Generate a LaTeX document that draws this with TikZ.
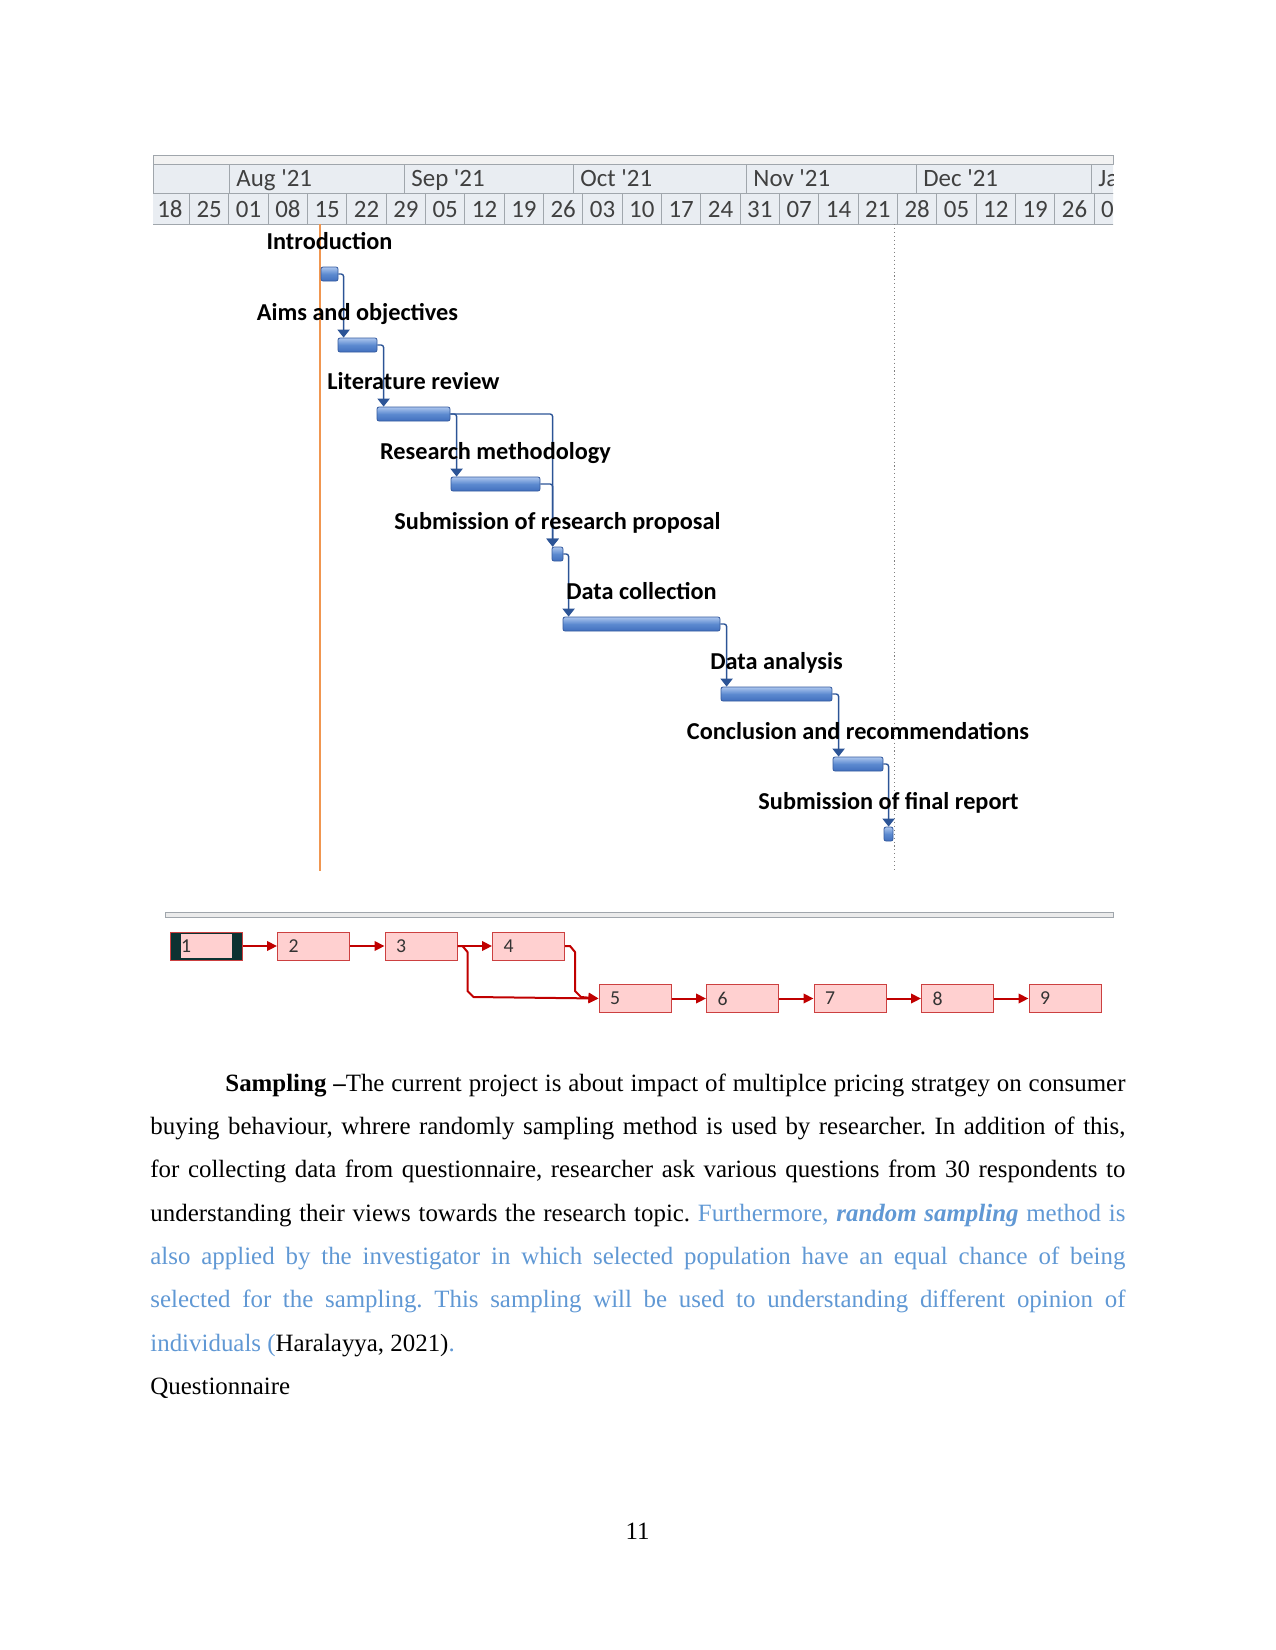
\documentclass[tikz,border=0pt]{standalone}
\usepackage{fontspec}
\setmainfont{Liberation Serif}
\newfontfamily\calibri{Carlito}[Ligatures=TeXOff]
\usetikzlibrary{arrows.meta, positioning}

\newdimen\unitpx \unitpx=0.48bp
\definecolor{hdrfill}{RGB}{233,237,242}
\definecolor{hdrline}{RGB}{160,166,172}
\definecolor{hdrtext}{RGB}{64,64,64}
\definecolor{barline}{RGB}{52,90,158}
\definecolor{bartop}{RGB}{172,198,238}
\definecolor{barmid}{RGB}{92,138,208}
\definecolor{barbot}{RGB}{66,112,190}
\definecolor{linkblue}{RGB}{44,84,150}
\definecolor{todayline}{RGB}{240,150,80}
\definecolor{netred}{RGB}{192,0,0}
\definecolor{netline}{RGB}{204,64,64}
\definecolor{netfill}{RGB}{255,208,208}
\definecolor{netdark}{RGB}{12,50,50}
\definecolor{citeblue}{RGB}{96,152,212}

\begin{document}
\begin{tikzpicture}[x=0.48bp, y=-0.48bp, node distance=34.5\unitpx,
    hdrcell/.style={draw=hdrline, fill=hdrfill, line width=1\unitpx},
    hdrlabel/.style={font=\calibri\fontsize{12}{14}\selectfont, text=hdrtext, inner sep=0},
    bar/.style={draw=barline, line width=0.8\unitpx, rounded corners=2\unitpx, top color=bartop, bottom color=barbot, middle color=barmid, minimum height=14\unitpx, inner sep=0},
    tasklabel/.style={font=\calibri\bfseries\fontsize{11.7}{14}\selectfont, inner sep=0},
    link/.style={draw=linkblue, line width=1.4\unitpx, rounded corners=2.5\unitpx, -{Triangle[width=5.8bp, length=3.8bp]}},
    netbox/.style={draw=netline, fill=netfill, line width=1\unitpx, minimum width=72\unitpx, minimum height=28\unitpx, text width=50\unitpx, inner xsep=11\unitpx, inner ysep=0, align=left, font=\calibri\fontsize{9.5}{11}\selectfont, text=black!80},
    box1/.style={fill=netdark, path picture={\fill[netfill] ([shift={(11\unitpx,-2\unitpx)}]path picture bounding box.north west) rectangle ([shift={(-10\unitpx,2\unitpx)}]path picture bounding box.south east);}},
    netlink/.style={draw=netred, line width=2\unitpx, line join=round, -{Triangle[width=4.6bp, length=4.8bp]}}]
    \useasboundingbox (0,0) rectangle (1275,1650);

    % timescale header
    \draw[draw=hdrline, fill=black!5, line width=1\unitpx] (153,155) rectangle (1113,164);
    \begin{scope}
        \clip (153,164) rectangle (1113,224);
        \foreach \xa/\xb/\mon [count=\m] in {153/229/{}, 229/404/{Aug '21}, 404/573/{Sep '21}, 573/746/{Oct '21}, 746/916/{Nov '21}, 916/1091/{Dec '21}, 1091/1260/{Jan '22}} {
            \draw[hdrcell] (\xa,164) rectangle (\xb,193);
            \node[hdrlabel, anchor=base west] (m\m) at (\xa+7,186) {\mon};
        }
        \foreach \wk [count=\i from 0] in {18,25,01,08,15,22,29,05,12,19,26,03,10,17,24,31,07,14,21,28,05,12,19,26,03} {
            \draw[hdrcell] (150.2+39.33*\i,193) rectangle (189.53+39.33*\i,224);
            \node[hdrlabel, anchor=base] (w\i) at (169.9+39.33*\i,217) {\wk};
        }
    \end{scope}

    % status date and finish
    \draw[todayline, line width=1.3\unitpx] (320,224) -- (320,871);
    \draw[gray, line width=1\unitpx, dash pattern=on 0.5bp off 1.4bp] (894,224) -- (894,870);

    % task bars
    \node[bar, minimum width=17\unitpx] (b1) at (329.5,274) {};
    \node[bar, minimum width=39\unitpx] (b2) at (357.5,345) {};
    \node[bar, minimum width=73\unitpx] (b3) at (413.5,414) {};
    \node[bar, minimum width=89\unitpx] (b4) at (495.5,484) {};
    \node[bar, minimum width=11\unitpx] (b5) at (557.5,554) {};
    \node[bar, minimum width=157\unitpx] (b6) at (641.5,624) {};
    \node[bar, minimum width=111\unitpx] (b7) at (776.5,694) {};
    \node[bar, minimum width=50\unitpx] (b8) at (858,764) {};
    \node[bar, minimum width=9\unitpx] (b9) at (888.5,834) {};

    \draw[link] (b1.east) -| ([xshift=6\unitpx]b2.north west);
    \draw[link] (b2.east) -| ([xshift=7\unitpx]b3.north west);
    \draw[link] (b3.east) -| ([xshift=6\unitpx]b4.north west);
    \draw[link] (b3.east) -| ([xshift=1\unitpx]b5.north west);
    \draw[link] (b4.east) -| ([xshift=1\unitpx]b5.north west);
    \draw[link] (b5.east) -| ([xshift=6\unitpx]b6.north west);
    \draw[link] (b6.east) -| ([xshift=6\unitpx]b7.north west);
    \draw[link] (b7.east) -| ([xshift=6\unitpx]b8.north west);
    \draw[link] (b8.east) -| ([xshift=5\unitpx]b9.north west);

    \node[tasklabel, above=17\unitpx of b1, anchor=base] (t1) {Introduction};
    \node[tasklabel, above=17\unitpx of b2, anchor=base] (t2) {Aims and objectives};
    \node[tasklabel, above=17\unitpx of b3, anchor=base] (t3) {Literature review};
    \node[tasklabel, above=17\unitpx of b4, anchor=base] (t4) {Research methodology};
    \node[tasklabel, above=17\unitpx of b5, anchor=base] (t5) {Submission of research proposal};
    \node[tasklabel, above=17\unitpx of b6, anchor=base] (t6) {Data collection};
    \node[tasklabel, above=17\unitpx of b7, anchor=base] (t7) {Data analysis};
    \node[tasklabel, above=17\unitpx of b8, anchor=base] (t8) {Conclusion and recommendations};
    \node[tasklabel, above=17\unitpx of b9, anchor=base] (t9) {Submission of final report};

    % network view
    \draw[draw=hdrline, fill=black!8, line width=1\unitpx] (165,912) rectangle (1113,917);
    \node[netbox, box1] (n1) at (206,946) {1};
    \node[netbox, right=of n1] (n2) {2};
    \node[netbox, right=of n2] (n3) {3};
    \node[netbox, right=of n3] (n4) {4};
    \node[netbox, below right=23.5\unitpx and 33.5\unitpx of n4] (n5) {5};
    \node[netbox, right=of n5] (n6) {6};
    \node[netbox, right=of n6] (n7) {7};
    \node[netbox, right=of n7] (n8) {8};
    \node[netbox, right=of n8] (n9) {9};
    \draw[netlink] (n1) -- (n2);
    \draw[netlink] (n2) -- (n3);
    \draw[netlink] (n3) -- (n4);
    \draw[netlink] (n3.east) -- ++(5,0) -- ++(5,6) -- ++(0,39) -- ++(6,6) -- (n5.west);
    \draw[netlink] (n4.east) -- ++(5,0) -- ++(5,6) -- ++(0,39) -- ++(6,6) -- (n5.west);
    \draw[netlink] (n5) -- (n6);
    \draw[netlink] (n6) -- (n7);
    \draw[netlink] (n7) -- (n8);
    \draw[netlink] (n8) -- (n9);

    % body text
    \node[anchor=base west, text width=468bp, inner sep=0, align=justify, font=\fontsize{12}{20.9}\selectfont\frenchspacing] (para) at (150,1091)
        {\hspace*{36bp}\textbf{Sampling –}The current project is about impact of multiplce pricing stratgey on consumer\linebreak
        buying behaviour, whrere randomly sampling method is used by researcher. In addition of this,\linebreak
        for collecting data from questionnaire, researcher ask various questions from 30 respondents to\linebreak
        understanding their views towards the research topic. {\color{citeblue}Furthermore, \textbf{\textit{random sampling}} method is\linebreak
        also applied by the investigator in which selected population have an equal chance of being\linebreak
        selected for the sampling. This sampling will be used to understanding different opinion of\linebreak
        individuals (}Haralayya, 2021){\color{citeblue}.}\par
        Questionnaire};
    \node[anchor=base, inner sep=0, font=\fontsize{12}{14}\selectfont] (pagenum) at (637.5,1539) {11};
\end{tikzpicture}
\end{document}
